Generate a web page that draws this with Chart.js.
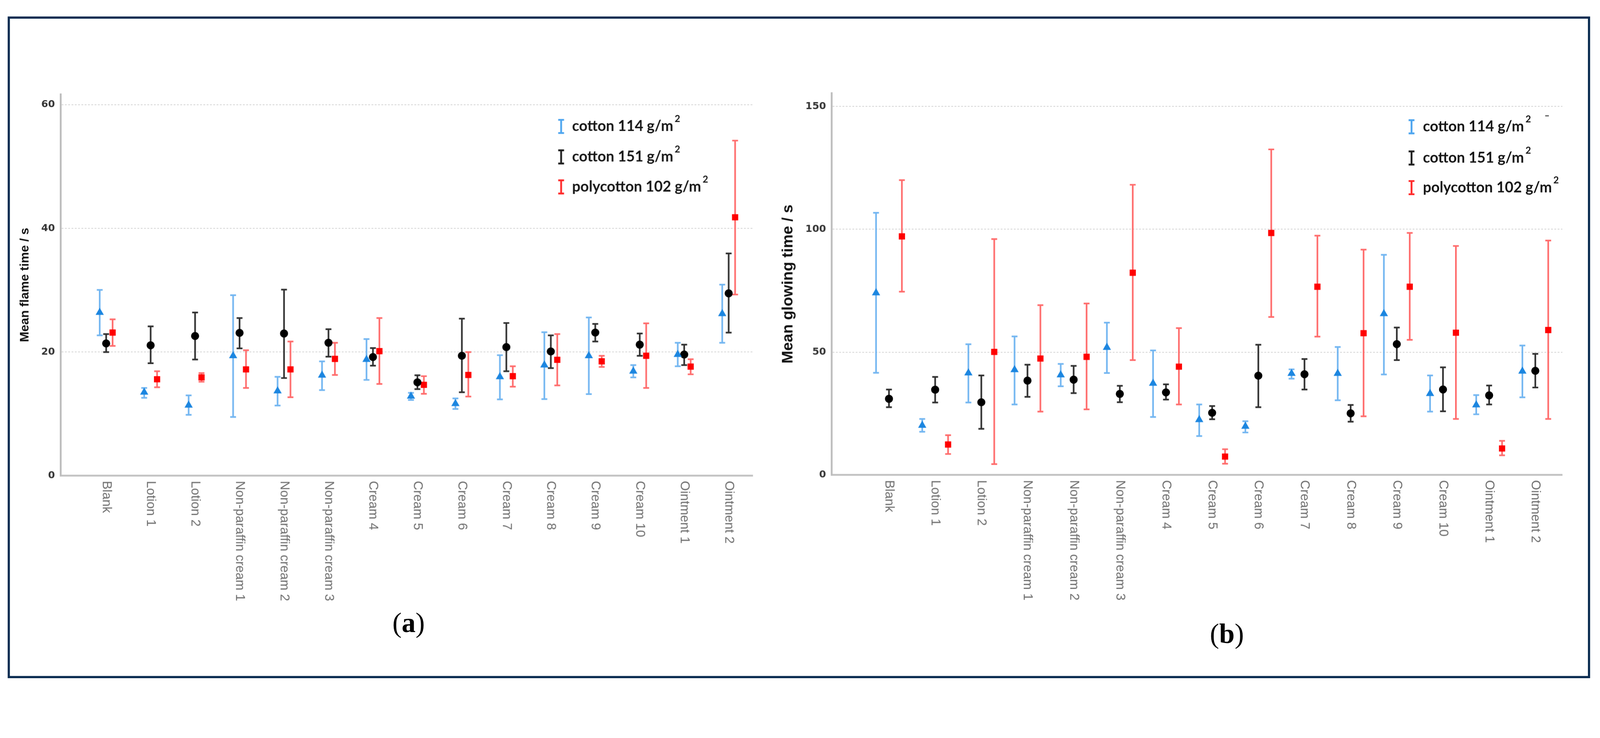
<!DOCTYPE html>
<html>
<head>
<meta charset="utf-8">
<script src="https://cdn.jsdelivr.net/npm/chart.js@4.4.0/dist/chart.umd.min.js"></script>
<style>
  html, body { margin: 0; padding: 0; background: #fff; overflow: hidden; }
  #page { position: relative; width: 4370px; height: 1888px; background: #fff; overflow: hidden; transform-origin: 0 0; }
  #frame { position: absolute; left: 21px; top: 45px; width: 4310px; height: 1794px; border: 6px solid #0b2c51; }
  canvas { position: absolute; top: 0; }
  .cap { position: absolute; font-family: "Liberation Serif", "Times New Roman", serif; font-size: 76px; color: #000; transform: translate(-50%, -50%); white-space: nowrap; }
</style>
</head>
<body>
<div id="page">
  <div id="frame"></div>
  <canvas id="chartA" width="2110" height="1888" style="left:0px; width:2110px; height:1888px;"></canvas>
  <canvas id="chartB" width="2260" height="1888" style="left:2110px; width:2260px; height:1888px;"></canvas>
  <div class="cap" style="left:1116px; top:1700px;">(<b>a</b>)</div>
  <div class="cap" style="left:3351px; top:1730px;">(<b>b</b>)</div>
</div>
<script>
var labels = ['Blank', 'Lotion 1', 'Lotion 2', 'Non-paraffin cream 1', 'Non-paraffin cream 2',
              'Non-paraffin cream 3', 'Cream 4', 'Cream 5', 'Cream 6', 'Cream 7', 'Cream 8',
              'Cream 9', 'Cream 10', 'Ointment 1', 'Ointment 2'];
var seriesNames = ['cotton 114 g/m', 'cotton 151 g/m', 'polycotton 102 g/m'];

// (a) mean flame time / s, with error bar ends
var flame114 =   [26.4, 13.5, 11.4, 19.4, 13.7, 16.25, 18.8, 12.85, 11.65, 16.0, 17.9, 19.4, 16.9, 19.6, 26.2];
var flame114Lo = [22.7, 12.6, 9.85, 9.5, 11.35, 13.85, 15.5, 12.25, 10.8, 12.35, 12.4, 13.2, 15.9, 17.7, 21.5];
var flame114Hi = [30.05, 14.2, 13.0, 29.2, 16.0, 18.5, 22.1, 13.4, 12.5, 19.5, 23.2, 25.6, 17.9, 21.5, 30.9];
var flame151 =   [21.4, 21.1, 22.6, 23.1, 23.0, 21.5, 19.2, 15.1, 19.4, 20.8, 20.1, 23.15, 21.2, 19.6, 29.5];
var flame151Lo = [20.0, 18.2, 18.8, 20.6, 15.8, 19.25, 17.8, 14.0, 13.5, 16.9, 17.4, 21.7, 19.4, 17.9, 23.15];
var flame151Hi = [22.9, 24.15, 26.4, 25.5, 30.1, 23.7, 20.65, 16.25, 25.4, 24.7, 22.7, 24.55, 23.0, 21.2, 35.95];
var flame102 =   [23.15, 15.6, 15.9, 17.2, 17.2, 18.9, 20.15, 14.7, 16.3, 16.1, 18.75, 18.5, 19.4, 17.65, 41.8];
var flame102Lo = [21.0, 14.3, 15.2, 14.2, 12.7, 16.3, 14.85, 13.25, 12.8, 14.4, 14.6, 17.6, 14.2, 16.4, 29.3];
var flame102Hi = [25.3, 16.9, 16.6, 20.3, 21.7, 21.5, 25.5, 16.1, 20.0, 17.7, 22.9, 19.4, 24.65, 18.85, 54.2];
var flameTicks = [0, 20, 40, 60];

// (b) mean glowing time / s
var glow114 =   [74.1, 20.2, 41.5, 42.8, 40.7, 51.9, 37.3, 22.5, 19.8, 41.3, 41.3, 65.6, 33.1, 28.5, 42.2];
var glow114Lo = [41.6, 17.6, 29.5, 28.7, 36.1, 41.5, 23.6, 15.85, 17.3, 39.2, 30.4, 40.9, 25.8, 24.7, 31.6];
var glow114Hi = [106.7, 22.8, 53.2, 56.4, 45.2, 62.0, 50.7, 28.7, 21.9, 43.0, 52.1, 89.6, 40.5, 32.5, 52.7];
var glow151 =   [31.0, 34.7, 29.6, 38.4, 38.8, 33.0, 33.6, 25.3, 40.4, 41.0, 25.1, 53.25, 34.8, 32.4, 42.4];
var glow151Lo = [27.6, 29.5, 18.8, 31.8, 33.3, 29.6, 30.7, 22.7, 27.6, 34.8, 21.7, 46.75, 25.9, 28.7, 35.6];
var glow151Hi = [34.8, 39.9, 40.5, 44.9, 44.4, 36.3, 36.9, 28.05, 53.0, 47.2, 28.5, 60.0, 43.8, 36.4, 49.3];
var glow102 =   [97.1, 12.4, 50.1, 47.4, 48.1, 82.3, 44.1, 7.5, 98.5, 76.6, 57.7, 76.6, 57.9, 10.8, 59.0];
var glow102Lo = [74.6, 8.55, 4.45, 25.8, 26.7, 46.75, 28.7, 4.6, 64.3, 56.3, 23.9, 55.0, 22.8, 8.0, 22.8];
var glow102Hi = [120.0, 16.2, 96.0, 69.1, 69.8, 118.1, 59.75, 10.5, 132.5, 97.4, 91.7, 98.5, 93.2, 13.9, 95.4];
var glowTicks = [0, 50, 100, 150];

var styles = [
    { point: 'triangle', radius: 13, fill: '#1c86e0', bar: 'rgba(100,174,240,0.9)', key: '#4da5ef' },
    { point: 'circle',   radius: 11, fill: '#000000', bar: '#303030',               key: '#1e1e1e' },
    { point: 'rect',     radius: 12, fill: '#ff0000', bar: 'rgba(255,100,100,0.95)', key: '#ff2a2a' }
];

// the page is laid out at 4370 x 1888; fit it to whatever the window really is
var fit = Math.min(window.innerWidth / 4370, window.innerHeight / 1888);
document.getElementById('page').style.transform = 'scale(' + fit + ')';
var ratio = fit * (window.devicePixelRatio || 1);

// error bars under the markers, rotated category labels and the legend
var extrasPlugin = {
    id: 'extras',
    beforeDatasetsDraw: function(chart) {
        var ctx = chart.ctx;
        var y = chart.scales.y;
        chart.data.datasets.forEach(function(ds, i) {
            var meta = chart.getDatasetMeta(i);
            ctx.save();
            ctx.strokeStyle = ds.barColor;
            ctx.lineWidth = 4.5;
            meta.data.forEach(function(pt, j) {
                var top = y.getPixelForValue(ds.errHi[j]);
                var bot = y.getPixelForValue(ds.errLo[j]);
                ctx.beginPath();
                ctx.moveTo(pt.x, top); ctx.lineTo(pt.x, bot);
                ctx.moveTo(pt.x - 8, top); ctx.lineTo(pt.x + 8, top);
                ctx.moveTo(pt.x - 8, bot); ctx.lineTo(pt.x + 8, bot);
                ctx.stroke();
            });
            ctx.restore();
        });
    },
    afterDraw: function(chart) {
        var ctx = chart.ctx;
        var x = chart.scales.x;
        var opts = chart.options.plugins.extras;

        ctx.save();
        ctx.fillStyle = '#6e6e6e';
        ctx.font = '35px "Liberation Sans", Arial, sans-serif';
        ctx.textAlign = 'left';
        ctx.textBaseline = 'middle';
        labels.forEach(function(lab, i) {
            ctx.save();
            ctx.translate(x.getPixelForValue(i), x.top + 14);
            ctx.rotate(Math.PI / 2);
            ctx.fillText(lab, 0, 0);
            ctx.restore();
        });
        ctx.restore();

        // legend: error bar glyph + label with superscript 2
        ctx.save();
        chart.data.datasets.forEach(function(ds, i) {
            var ry = opts.rows[i];
            var mx = opts.keyX;
            ctx.strokeStyle = ds.keyColor;
            ctx.lineWidth = 5;
            ctx.beginPath();
            ctx.moveTo(mx, ry - 18); ctx.lineTo(mx, ry + 18);
            ctx.moveTo(mx - 8, ry - 18); ctx.lineTo(mx + 8, ry - 18);
            ctx.moveTo(mx - 8, ry + 18); ctx.lineTo(mx + 8, ry + 18);
            ctx.stroke();

            ctx.fillStyle = '#161616';
            ctx.textBaseline = 'middle';
            ctx.textAlign = 'left';
            ctx.font = 'bold 40px Lato, sans-serif';
            ctx.fillText(ds.label, opts.textX, ry);
            var w = ctx.measureText(ds.label).width;
            ctx.font = 'bold 26px Lato, sans-serif';
            ctx.fillText('2', opts.textX + w + 4, ry - 20);
        });
        if (opts.stray) {
            // small stray mark next to the legend in (b)
            ctx.strokeStyle = '#555';
            ctx.lineWidth = 3;
            ctx.beginPath();
            ctx.moveTo(opts.stray[0] - 5, opts.stray[1]);
            ctx.lineTo(opts.stray[0] + 5, opts.stray[1]);
            ctx.stroke();
        }
        ctx.restore();
    }
};

function makeChart(id, series, title, ticks, box) {
    var datasets = series.map(function(s, k) {
        var st = styles[k];
        return {
            label: seriesNames[k],
            data: s.mean.map(function(v, i) { return { x: i + box.offsets[k], y: v }; }),
            errLo: s.lo,
            errHi: s.hi,
            barColor: st.bar,
            keyColor: st.key,
            pointStyle: st.point,
            pointRadius: st.radius,
            pointHoverRadius: st.radius,
            backgroundColor: st.fill,
            borderWidth: 0,
            showLine: false
        };
    });

    return new Chart(document.getElementById(id), {
        type: 'scatter',
        data: { datasets: datasets },
        plugins: [extrasPlugin],
        options: {
            responsive: false,
            animation: false,
            devicePixelRatio: ratio,
            layout: { padding: { top: box.top, right: box.right, left: 0, bottom: 0 } },
            plugins: {
                legend: { display: false },
                tooltip: { enabled: false },
                extras: { keyX: box.keyX, textX: box.textX, rows: box.rows, stray: box.stray }
            },
            scales: {
                x: {
                    type: 'linear',
                    min: box.xMin,
                    max: box.xMax,
                    afterBuildTicks: function(scale) {
                        scale.ticks = labels.map(function(l, i) { return { value: i }; });
                    },
                    afterFit: function(scale) { scale.height = box.xHeight; },
                    ticks: { display: false },
                    grid: { display: false },
                    border: { display: true, color: '#c2c2c2', width: 5 }
                },
                y: {
                    min: 0,
                    max: box.yMax,
                    afterBuildTicks: function(scale) {
                        scale.ticks = ticks.map(function(v) { return { value: v }; });
                    },
                    afterFit: function(scale) { scale.width = box.yWidth; },
                    ticks: {
                        padding: 16,
                        color: '#353535',
                        font: { family: '"DejaVu Sans", sans-serif', size: 27, weight: 'bold' }
                    },
                    grid: { color: '#cdcdcd', lineWidth: 2, drawTicks: false },
                    border: { display: true, color: '#bdbdbd', width: 5, dash: [5, 4] },
                    title: {
                        display: true,
                        text: title,
                        color: '#111',
                        padding: { top: box.titlePad, bottom: 0 },
                        font: { family: '"Liberation Sans Narrow", "Arial Narrow", sans-serif', size: box.titleSize, weight: 'bold' }
                    }
                }
            }
        }
    });
}

makeChart('chartA', [
    { mean: flame114, lo: flame114Lo, hi: flame114Hi },
    { mean: flame151, lo: flame151Lo, hi: flame151Hi },
    { mean: flame102, lo: flame102Lo, hi: flame102Hi }
], 'Mean flame time / s', flameTicks, {
    top: 257, right: 55, yWidth: 166, xHeight: 590, yMax: 61.7,
    xMin: -1.02, xMax: 14.54, offsets: [-0.145, 0, 0.145],
    titleSize: 34, titlePad: 48,
    keyX: 1532, textX: 1562, rows: [345, 428, 510]
});

makeChart('chartB', [
    { mean: glow114, lo: glow114Lo, hi: glow114Hi },
    { mean: glow151, lo: glow151Lo, hi: glow151Hi },
    { mean: glow102, lo: glow102Lo, hi: glow102Hi }
], 'Mean glowing time / s', glowTicks, {
    top: 254, right: 103, yWidth: 162, xHeight: 592, yMax: 155.4,
    xMin: -1.237, xMax: 14.587, offsets: [-0.28, 0, 0.28],
    titleSize: 42, titlePad: 18,
    keyX: 3855 - 2110, textX: 3886 - 2110, rows: [346, 431, 512],
    stray: [4225 - 2110, 316]
});
</script>
</body>
</html>
